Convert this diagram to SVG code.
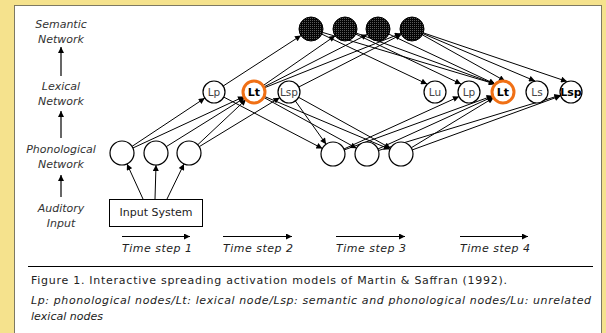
<svg xmlns="http://www.w3.org/2000/svg" width="606" height="333" viewBox="0 0 606 333">
<defs>
<marker id="ah" viewBox="0 0 10 10" refX="10" refY="5" markerWidth="7" markerHeight="6" markerUnits="userSpaceOnUse" orient="auto"><path d="M0,0 L10,5 L0,10 z" fill="#000"/></marker>
<pattern id="stip" width="2" height="2" patternUnits="userSpaceOnUse"><rect width="2" height="2" fill="#050505"/><rect width="1" height="1" fill="#5a5a5a"/></pattern>
</defs>
<style>
.lbl{font-family:"DejaVu Sans",sans-serif;font-style:italic;font-size:11px;fill:#333;text-anchor:middle}
.ts{font-family:"DejaVu Sans",sans-serif;font-style:italic;font-size:11px;fill:#222}
.c{fill:#fff;stroke:#000;stroke-width:1.2}
.sem{fill:url(#stip);stroke:#000;stroke-width:1}
.lt{fill:#fff;stroke:#f07015;stroke-width:3}
.nt{font-family:"DejaVu Sans",sans-serif;font-size:10.5px;fill:#444;text-anchor:middle}
.bt{font-family:"DejaVu Sans",sans-serif;font-size:11px;font-weight:bold;fill:#000;text-anchor:middle}
.e line{stroke:#000;stroke-width:1;marker-end:url(#ah)}
.ax line{stroke:#000;stroke-width:1.2;marker-end:url(#ah)}
.cap{font-family:"DejaVu Sans",sans-serif;font-size:11px;fill:#222}
</style>
<rect x="0" y="0" width="606" height="333" fill="#f5e28d"/>
<rect x="14.5" y="5.5" width="587" height="340" fill="#fff" stroke="#000" stroke-width="1" stroke-dasharray="1 1"/>

<g id="axis-labels">
<text class="lbl" x="61" y="28">Semantic</text>
<text class="lbl" x="61" y="43">Network</text>
<text class="lbl" x="61" y="90">Lexical</text>
<text class="lbl" x="61" y="105">Network</text>
<text class="lbl" x="61" y="153">Phonological</text>
<text class="lbl" x="61" y="168">Network</text>
<text class="lbl" x="61" y="212">Auditory</text>
<text class="lbl" x="61" y="227">Input</text>
</g>
<g class="ax" id="axis-arrows">
<line x1="61" y1="76" x2="61" y2="47"/>
<line x1="61" y1="138" x2="61" y2="111"/>
<line x1="61" y1="197" x2="61" y2="175"/>
</g>

<g class="e" id="connectors">
<line x1="143" y1="199" x2="127" y2="164"/>
<line x1="155" y1="199" x2="156" y2="165"/>
<line x1="167" y1="199" x2="184" y2="164"/>
<line x1="132" y1="146.4" x2="204.8" y2="98.1"/>
<line x1="132.9" y1="148" x2="244" y2="96.6"/>
<line x1="166.2" y1="146.7" x2="244.7" y2="97.8"/>
<line x1="197.7" y1="144.8" x2="246" y2="99.5"/>
<line x1="199.2" y1="146.7" x2="279.6" y2="97.7"/>
<line x1="223.2" y1="86" x2="301" y2="35.5"/>
<line x1="263" y1="85.7" x2="335.1" y2="35.8"/>
<line x1="263.8" y1="87" x2="367.3" y2="34.4"/>
<line x1="264.2" y1="87.9" x2="400.9" y2="33.4"/>
<line x1="298.8" y1="87" x2="401.3" y2="34.5"/>
<line x1="223.8" y1="97.1" x2="322.4" y2="148.5"/>
<line x1="263.6" y1="97.3" x2="356.5" y2="148.2"/>
<line x1="264.1" y1="96.3" x2="389.9" y2="149.3"/>
<line x1="295.4" y1="101" x2="326.1" y2="144.2"/>
<line x1="298.6" y1="97.3" x2="390.5" y2="148.2"/>
<line x1="321.8" y1="34.1" x2="427" y2="84"/>
<line x1="322.5" y1="32.4" x2="495" y2="84"/>
<line x1="355.8" y1="34.1" x2="461" y2="84"/>
<line x1="356.3" y1="33.1" x2="495" y2="84"/>
<line x1="388.9" y1="34.1" x2="495" y2="84"/>
<line x1="422.5" y1="34.9" x2="505" y2="81"/>
<line x1="423.1" y1="33.7" x2="535" y2="81"/>
<line x1="423.4" y1="32.9" x2="567" y2="81.5"/>
<line x1="343.9" y1="149" x2="459" y2="96.6"/>
<line x1="344.3" y1="149.9" x2="492.7" y2="95.8"/>
<line x1="377.9" y1="149" x2="493" y2="96.6"/>
<line x1="411.2" y1="147.8" x2="493.6" y2="97.7"/>
<line x1="412.3" y1="149.9" x2="560.7" y2="95.8"/>
<line x1="378.5" y1="150.5" x2="560.5" y2="95.2"/>
</g>

<g id="input-system">
<rect x="109.5" y="199.5" width="93" height="27" fill="#fff" stroke="#000" stroke-width="1"/>
<text x="156" y="216" font-family="DejaVu Sans, sans-serif" font-size="11" fill="#222" text-anchor="middle">Input System</text>
</g>

<g id="phon-left">
<circle class="c" cx="122" cy="153" r="12"/>
<circle class="c" cx="156" cy="153" r="12"/>
<circle class="c" cx="189" cy="153" r="12"/>
</g>
<g id="phon-right">
<circle class="c" cx="333" cy="154" r="12"/>
<circle class="c" cx="367" cy="154" r="12"/>
<circle class="c" cx="401" cy="154" r="12"/>
</g>
<g id="semantic">
<circle class="sem" cx="311" cy="29" r="12"/>
<circle class="sem" cx="345" cy="29" r="12"/>
<circle class="sem" cx="378" cy="29" r="12"/>
<circle class="sem" cx="412" cy="29" r="12"/>
</g>
<g id="lex-left-Lp"><circle class="c" cx="214" cy="92" r="11"/><text class="nt" x="214" y="96">Lp</text></g>
<g id="lex-left-Lt"><circle class="lt" cx="254" cy="92" r="11"/><text class="bt" x="254" y="96">Lt</text></g>
<g id="lex-left-Lsp"><circle class="c" cx="289" cy="92" r="11"/><text class="nt" x="289" y="96">Lsp</text></g>
<g id="lex-right-Lu"><circle class="c" cx="435" cy="92" r="11"/><text class="nt" x="435" y="96">Lu</text></g>
<g id="lex-right-Lp"><circle class="c" cx="469" cy="92" r="11"/><text class="nt" x="469" y="96">Lp</text></g>
<g id="lex-right-Lt"><circle class="lt" cx="503" cy="92" r="11"/><text class="bt" x="503" y="96">Lt</text></g>
<g id="lex-right-Ls"><circle class="c" cx="537" cy="92" r="11"/><text class="nt" x="537" y="96">Ls</text></g>
<g id="lex-right-Lsp"><circle class="c" cx="571" cy="92" r="11"/><text class="bt" x="571" y="96" font-size="10">Lsp</text></g>

<g class="ax" id="time-arrows">
<line x1="122" y1="236.5" x2="190" y2="236.5"/>
<line x1="223" y1="236.5" x2="292" y2="236.5"/>
<line x1="336" y1="236.5" x2="405" y2="236.5"/>
<line x1="460" y1="236.5" x2="528" y2="236.5"/>
</g>
<g id="time-labels">
<text class="ts" x="122" y="252" textLength="70">Time step 1</text>
<text class="ts" x="223" y="252" textLength="70">Time step 2</text>
<text class="ts" x="336" y="252" textLength="70">Time step 3</text>
<text class="ts" x="460" y="252" textLength="70">Time step 4</text>
</g>

<g id="caption">
<line x1="28" y1="266.5" x2="593" y2="266.5" stroke="#000" stroke-width="1"/>
<text class="cap" x="31" y="284" textLength="476">Figure 1. Interactive spreading activation models of Martin &amp; Saffran (1992).</text>
<text class="cap" x="31" y="304" font-style="italic" textLength="560">Lp: phonological nodes/Lt: lexical node/Lsp: semantic and phonological nodes/Lu: unrelated</text>
<text class="cap" x="31" y="320" font-style="italic">lexical nodes</text>
</g>
</svg>
